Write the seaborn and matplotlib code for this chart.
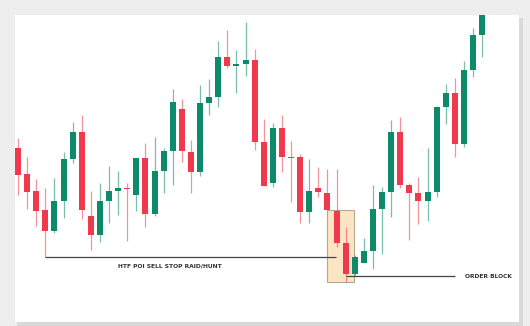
import matplotlib
matplotlib.use("Agg")
import matplotlib.pyplot as plt
from matplotlib.patches import Rectangle
import numpy as np
import pandas as pd
import seaborn as sns

# ---- data (price units) ----
opens  = [178,152,135,116, 95,125,167,194,110, 91,125,135,138,131,168,112,155,175,217,174,
          154,223,229,269,260,262,266,184,143,198,169,169,114,138,133,115, 83, 52, 63, 75,
          117,134,194,141,133,125,134,219,233,182,256,291]
highs  = [188,169,147,138,148,174,204,211,135,143,160,155,143,168,183,189,178,237,227,186,
          241,247,285,296,276,304,277,207,203,211,185,172,167,159,157,157, 99, 71, 88,141,
          139,206,209,143,149,178,220,242,248,265,298,330]
lows   = [131,117,100, 69, 93,108,163,107, 76, 84,103,111, 85,115, 99,110,133,141,164,133,
          150,211,219,258,233,250,176,140,139,154,124,103,103,129,116, 79, 44, 50, 63, 57,
           72,109,138, 86,102,105,129,202,169,179,249,269]
closes = [151,134,115, 95,125,167,194,116, 91,125,135,138,137,168,112,155,175,224,175,154,
          223,229,269,260,262,266,184,140,198,169,168,114,135,134,116, 83, 52, 69, 75,117,
          134,194,141,133,125,134,219,233,182,256,291,320]

htf_label = "HTF POI SELL STOP RAID/HUNT"
ob_label = "ORDER BLOCK"
htf_level = 69
ob_level = 50

df = pd.DataFrame({"open": opens, "high": highs, "low": lows, "close": closes})
df["idx"] = np.arange(len(df))
df["up"] = df["close"] >= df["open"]

GREEN = "#0d8a69"
RED = "#ee3a4c"

sns.set_theme(style="white")
fig = plt.figure(figsize=(5.30, 3.26), dpi=100)
fig.patch.set_facecolor("#eeeeee")

# card shadow + card
fig.patches.append(Rectangle((17/530, 0/326), 506/530, 308/326, transform=fig.transFigure,
                             facecolor="#d9d9d9", edgecolor="none", zorder=-2))
fig.patches.append(Rectangle((15/530, 4/326), 504/530, 307/326, transform=fig.transFigure,
                             facecolor="white", edgecolor="none", zorder=-1))

ax = fig.add_axes([15/530, 4/326, 504/530, 307/326])
ax.set_facecolor("none")
ax.set_xlim(-0.33, 55.05)
ax.set_ylim(4, 311)
for s in ax.spines.values():
    s.set_visible(False)
ax.set_xticks([])
ax.set_yticks([])

# order block box
ax.add_patch(Rectangle((33.96, 44), 2.94, 72, facecolor="#fde5c3", edgecolor="#b5a891",
                       linewidth=0.8, zorder=1))

colors = np.where(df["up"], GREEN, RED)
# wicks
ax.vlines(df["idx"], df["low"], df["high"], colors=colors, linewidth=0.9, alpha=0.55, zorder=2)
# bodies
bottoms = np.minimum(df["open"], df["close"])
heights = np.maximum(np.abs(df["close"] - df["open"]), 1.5)
ax.bar(df["idx"], heights, bottom=bottoms, width=0.66, color=colors, linewidth=0, zorder=3)

# level lines
ax.hlines(htf_level, 3, 34.9, color="#444444", linewidth=0.9, zorder=4)
ax.hlines(ob_level, 36, 48.0, color="#444444", linewidth=0.9, zorder=4)
ax.text(16.7, 60, htf_label, fontsize=4.3, fontweight="bold", color="#333333",
        ha="center", va="center")
ax.text(49.1, 50, ob_label, fontsize=4.3, fontweight="bold", color="#333333",
        ha="left", va="center")

fig.savefig("out.png", dpi=100, facecolor=fig.get_facecolor())
